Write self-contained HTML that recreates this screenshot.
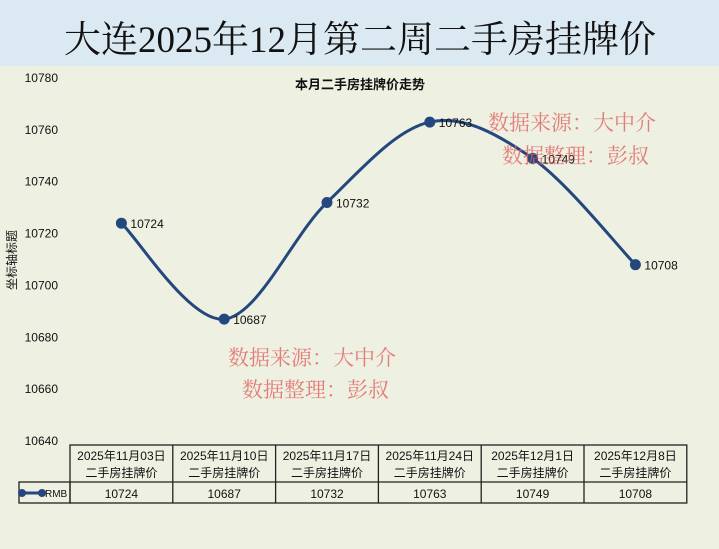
<!DOCTYPE html>
<html><head><meta charset="utf-8"><style>
body{margin:0;width:719px;height:544px;overflow:hidden;font-family:"Liberation Sans","Noto Sans CJK SC",sans-serif;background:#eef0e1}
</style></head><body>
<svg width="719" height="544" xmlns="http://www.w3.org/2000/svg">
<rect x="0" y="0" width="719" height="66" fill="#dbeaf2"/>
<rect x="0" y="66" width="719" height="478" fill="#eef0e1"/>
<text x="360" y="52" text-anchor="middle" font-family="'Liberation Serif','Noto Serif CJK SC',serif" font-size="37" fill="#111">大连2025年12月第二周二手房挂牌价</text>
<text x="360" y="89" text-anchor="middle" font-size="13" font-weight="bold" fill="#111">本月二手房挂牌价走势</text>
<text x="16" y="260" text-anchor="middle" font-size="12" fill="#111" transform="rotate(-90 16 260)">坐标轴标题</text>
<g id="yticks"></g>
<g id="table"></g>
<path id="line" fill="none" stroke="#24477e" stroke-width="3"/>
<g id="pts"></g>
<g fill="#e06060" fill-opacity="0.8" font-family="'Noto Serif CJK SC',serif" font-size="21">
<text x="488" y="130">数据来源：大中介</text>
<text x="502" y="163">数据整理：彭叔</text>
<text x="228" y="365">数据来源：大中介</text>
<text x="242" y="397">数据整理：彭叔</text>
</g>
</svg>
<script>
const categories=["2025年11月03日","2025年11月10日","2025年11月17日","2025年11月24日","2025年12月1日","2025年12月8日"];
const values=[10724,10687,10732,10763,10749,10708];
const yTicks=[10640,10660,10680,10700,10720,10740,10760,10780];
const seriesName="RMB";
const NS="http://www.w3.org/2000/svg";
const yMin=10640,yMax=10780,yTop=78,yBot=441;
const colL=70,colW=102.8;
function y(v){return yBot-(v-yMin)/(yMax-yMin)*(yBot-yTop);}
function x(i){return colL+colW*(i+0.5);}
function mk(t,a,p,txt){const e=document.createElementNS(NS,t);for(const k in a)e.setAttribute(k,a[k]);if(txt!==undefined)e.textContent=txt;p.appendChild(e);return e;}
const yt=document.getElementById('yticks');
yTicks.forEach(v=>{const e=mk('text',{x:58,y:y(v)+4,'text-anchor':'end','font-size':12,fill:'#111'},yt,v);

});
// smooth line (cardinal spline)
const P=values.map((v,i)=>[x(i),y(v)]);
let d="M"+P[0][0]+","+P[0][1];
const t=0.5;
for(let i=0;i<P.length-1;i++){const p0=P[i-1]||P[i],p1=P[i],p2=P[i+1],p3=P[i+2]||P[i+1];
const c1=[p1[0]+(p2[0]-p0[0])*t/3,p1[1]+(p2[1]-p0[1])*t/3],c2=[p2[0]-(p3[0]-p1[0])*t/3,p2[1]-(p3[1]-p1[1])*t/3];
d+=` C${c1[0]},${c1[1]} ${c2[0]},${c2[1]} ${p2[0]},${p2[1]}`;}
document.getElementById('line').setAttribute('d',d);
const pg=document.getElementById('pts');
values.forEach((v,i)=>{const c=mk('circle',{cx:x(i),cy:y(v),r:5.5,fill:'#24477e'},pg);


const l=mk('text',{x:x(i)+9,y:y(v)+5,'font-size':12,fill:'#111'},pg,v);

});
// table
const tb=document.getElementById('table');
const rT=445,rM=482,rB=503;
const g=mk('g',{stroke:'#222','stroke-width':1.3,fill:'none'},tb);
mk('rect',{x:colL,y:rT,width:colW*6,height:rB-rT},g);
mk('rect',{x:19,y:rM,width:colL-19,height:rB-rM},g);
mk('line',{x1:colL,y1:rM,x2:colL+colW*6,y2:rM},g);
for(let i=1;i<6;i++)mk('line',{x1:colL+colW*i,y1:rT,x2:colL+colW*i,y2:rB},g);
categories.forEach((c,i)=>{const a=mk('text',{x:x(i),y:460,'text-anchor':'middle','font-size':12,fill:'#111'},tb,c);


const b=mk('text',{x:x(i),y:477,'text-anchor':'middle','font-size':12,fill:'#111'},tb,'二手房挂牌价');


const cv=mk('text',{x:x(i),y:498,'text-anchor':'middle','font-size':12,fill:'#111'},tb,values[i]);

});
mk('line',{x1:22,y1:493,x2:42,y2:493,stroke:'#24477e','stroke-width':3},tb);
mk('circle',{cx:22,cy:493,r:4,fill:'#24477e'},tb);
mk('circle',{cx:42,cy:493,r:4,fill:'#24477e'},tb);
const lg=mk('text',{x:45,y:497,'font-size':10,fill:'#111'},tb,seriesName);


</script>
</body></html>
